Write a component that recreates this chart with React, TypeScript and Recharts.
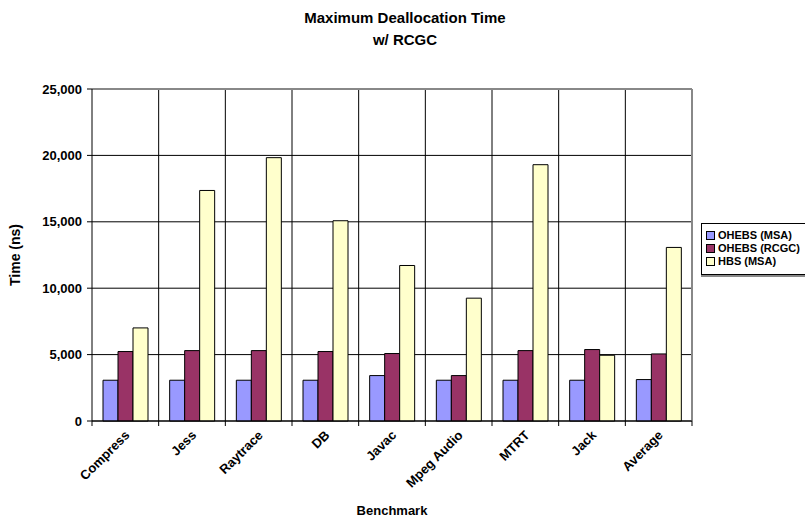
import { BarChart, Bar, XAxis, YAxis, CartesianGrid } from "recharts";

const benchmarks = ["Compress", "Jess", "Raytrace", "DB", "Javac", "Mpeg Audio", "MTRT", "Jack", "Average"];
const ohebsMsa = [3070, 3070, 3070, 3070, 3420, 3070, 3070, 3070, 3120];
const ohebsRcgc = [5230, 5300, 5300, 5230, 5080, 3420, 5300, 5380, 5050];
const hbsMsa = [7010, 17360, 19830, 15080, 11710, 9250, 19300, 4950, 13070];
const yTicks = [0, 5000, 10000, 15000, 20000, 25000];

const seriesNames = ["OHEBS (MSA)", "OHEBS (RCGC)", "HBS (MSA)"];
const colors = ["#9999FF", "#993366", "#FFFFCC"];

const data = benchmarks.map((name, i) => ({
  name,
  a: ohebsMsa[i],
  b: ohebsRcgc[i],
  c: hbsMsa[i],
}));

const font = "'Liberation Sans', Arial, sans-serif";
const W = 805;
const H = 532;
const plotLeft = 92;
const plotRight = 692;
const plotTop = 89;
const plotBottom = 421;
const step = (plotRight - plotLeft) / benchmarks.length;

const XTick = (props: any) => {
  const { x, y, payload, index } = props;
  return (
    <g>
      <line x1={x - step / 2} y1={y} x2={x - step / 2} y2={y + 5} stroke="#000" />
      {index === benchmarks.length - 1 && (
        <line x1={x + step / 2} y1={y} x2={x + step / 2} y2={y + 5} stroke="#000" />
      )}
      <text
        x={x + 5}
        y={y + 15}
        transform={`rotate(-45 ${x + 5} ${y + 15})`}
        textAnchor="end"
        fontSize={13}
        fontWeight="bold"
        fontFamily={font}
        fill="#000"
      >
        {payload.value}
      </text>
    </g>
  );
};

const LegendBox = () => (
  <div
    style={{
      position: "absolute",
      left: 701,
      top: 223,
      border: "1px solid #000",
      borderRight: "none",
      background: "#fff",
      padding: "5px 0 6px 4px",
      width: 104,
      fontFamily: font,
      fontWeight: "bold",
      fontSize: 11,
      lineHeight: "13px",
      boxShadow: "0 2px 0 #888",
    }}
  >
    {seriesNames.map((n, i) => (
      <div key={n} style={{ display: "flex", alignItems: "center", whiteSpace: "nowrap" }}>
        <span
          style={{
            display: "inline-block",
            width: 7,
            height: 7,
            background: colors[i],
            border: "1px solid #000",
            marginRight: 3,
          }}
        />
        {n}
      </div>
    ))}
  </div>
);

export default function App() {
  return (
    <div style={{ position: "absolute", left: 0, top: 0, width: W, height: H, background: "#fff", overflow: "hidden" }}>
      <BarChart
        width={W}
        height={H}
        data={data}
        margin={{ top: plotTop, right: W - plotRight, bottom: 0, left: 0 }}
        barSize={15}
        barGap={0}
      >
        <text x={405} y={23} textAnchor="middle" fontSize={15} fontWeight="bold" fontFamily={font}>
          Maximum Deallocation Time
        </text>
        <text x={405} y={45} textAnchor="middle" fontSize={15} fontWeight="bold" fontFamily={font}>
          w/ RCGC
        </text>
        <CartesianGrid
          stroke="#000"
          verticalCoordinatesGenerator={({ offset }: any) =>
            benchmarks.slice(1).map((_, i) => offset.left + ((i + 1) * offset.width) / benchmarks.length)
          }
        />
        <XAxis
          dataKey="name"
          height={H - plotBottom}
          interval={0}
          tickSize={0}
          tickMargin={0}
          tick={<XTick />}
          stroke="#000"
          label={{
            value: "Benchmark",
            position: "insideBottom",
            offset: 17,
            fontSize: 13,
            fontWeight: "bold",
            fontFamily: font,
            fill: "#000",
          }}
        />
        <YAxis
          width={plotLeft}
          domain={[0, 25000]}
          ticks={yTicks}
          tickSize={5}
          tickMargin={5}
          stroke="#000"
          tickFormatter={(v: number) => v.toLocaleString("en-US")}
          tick={{ fontSize: 13, fontWeight: "bold", fontFamily: font, fill: "#000" }}
          label={{
            value: "Time (ns)",
            angle: -90,
            position: "insideLeft",
            offset: 15,
            style: { textAnchor: "middle" },
            fontSize: 14,
            fontWeight: "bold",
            fontFamily: font,
            fill: "#000",
          }}
        />
        <Bar dataKey="a" name={seriesNames[0]} fill={colors[0]} stroke="#000" strokeWidth={1} isAnimationActive={false} />
        <Bar dataKey="b" name={seriesNames[1]} fill={colors[1]} stroke="#000" strokeWidth={1} isAnimationActive={false} />
        <Bar dataKey="c" name={seriesNames[2]} fill={colors[2]} stroke="#000" strokeWidth={1} isAnimationActive={false} />
        <line x1={plotLeft} y1={plotTop} x2={plotRight} y2={plotTop} stroke="#888" strokeWidth={2} />
        <line x1={plotRight} y1={plotTop} x2={plotRight} y2={plotBottom} stroke="#888" strokeWidth={2} />
      </BarChart>
      <LegendBox />
    </div>
  );
}
